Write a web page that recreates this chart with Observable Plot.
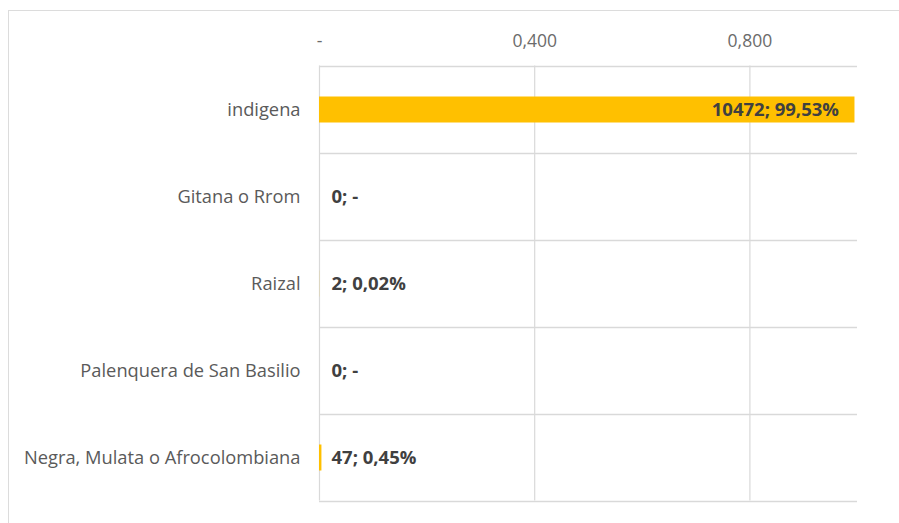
<!DOCTYPE html>
<html>
<head>
<meta charset="utf-8">
<script src="https://cdn.jsdelivr.net/npm/d3@7"></script>
<script src="https://cdn.jsdelivr.net/npm/@observablehq/plot@0.6"></script>
<style>
  html, body { margin: 0; padding: 0; background: #fff; overflow: hidden; }
  #wrap { position: relative; width: 899px; height: 523px; }
  #frame { position: absolute; left: 8px; top: 10px; width: 900px; height: 520px; border-left: 1.5px solid #dcdcdc; border-top: 1.5px solid #dcdcdc; }
  #chart { position: absolute; left: 0; top: 0; }
</style>
</head>
<body>
<div id="wrap"><div id="frame"></div><div id="chart"></div></div>
<script>
const categories = ["indigena", "Gitana o Rrom", "Raizal", "Palenquera de San Basilio", "Negra, Mulata o Afrocolombiana"];
const counts = [10472, 0, 2, 0, 47];
const shares = [0.9953, 0, 0.0002, 0, 0.0045];
const xTicks = [0, 0.4, 0.8];

const data = categories.map((c, i) => ({cat: c, n: counts[i], p: shares[i]}));
const pct = v => v === 0 ? "-" : (v * 100).toFixed(2).replace(".", ",") + "%";
const label = d => `${d.n}; ${pct(d.p)}`;
const tickFmt = d => d === 0 ? "-" : d.toFixed(3).replace(".", ",");

const W = 899, H = 523, mt = 65.5, mb = 22.5;
const step = (H - mt - mb) / categories.length;
const font = "'Open Sans', 'Liberation Sans', sans-serif";

const chart = Plot.plot({
  width: W, height: H,
  marginLeft: 319, marginRight: 42, marginTop: mt, marginBottom: mb,
  style: {fontFamily: font, background: "transparent"},
  x: {domain: [0, 1], axis: null},
  y: {domain: categories, padding: 0, axis: null},
  marks: [
    Plot.ruleX(xTicks, {stroke: "#d9d9d9", strokeWidth: 1.2}),
    Plot.ruleY(categories, {y: d => d, dy: -step / 2, stroke: "#d9d9d9", strokeWidth: 1.5, x1: 0, x2: 1}),
    Plot.ruleY(categories.slice(-1), {y: d => d, dy: step / 2, stroke: "#d9d9d9", strokeWidth: 1.5, x1: 0, x2: 1}),
    Plot.barX(data, {y: "cat", x: "p", fill: "#FFC000", insetTop: 30.5, insetBottom: 30.5}),
    Plot.text(data.filter(d => d.p > 0.5), {y: "cat", x: "p", text: label, textAnchor: "end", dx: -16,
      fill: "#404040", fontWeight: "bold", fontSize: 18.5}),
    Plot.text(data.filter(d => d.p <= 0.5), {y: "cat", x: 0, text: label, textAnchor: "start", dx: 12,
      fill: "#404040", fontWeight: "bold", fontSize: 18.5}),
    Plot.axisX({anchor: "top", ticks: xTicks, tickSize: 0, tickPadding: 19, fontSize: 17.5, color: "#6b6b6b",
      tickFormat: tickFmt, label: null}),
    Plot.axisY({tickSize: 0, tickPadding: 19, fontSize: 18.3, color: "#5a5a5a", label: null})
  ]
});
document.getElementById("chart").appendChild(chart);
</script>
</body>
</html>
